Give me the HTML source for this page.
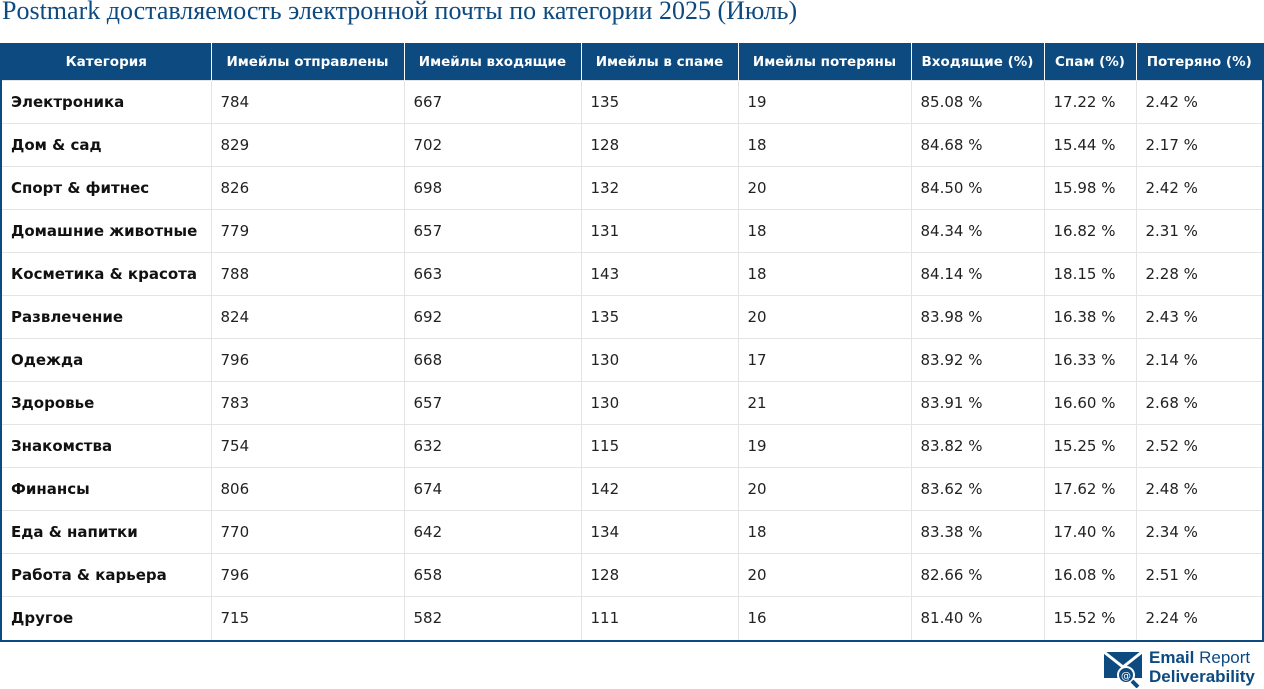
<!DOCTYPE html>
<html><head><meta charset="utf-8"><style>
body{margin:0;width:1264px;height:689px;background:#fff;position:relative;overflow:hidden;font-family:"DejaVu Sans","Liberation Sans",sans-serif}
h1{position:absolute;left:2px;top:-4px;margin:0;font:26px "Liberation Serif",serif;color:#0d4a80;font-weight:normal;white-space:nowrap}
.wrap{position:absolute;left:0;top:43px;width:1264px;box-sizing:border-box;border-left:2px solid #0d4a80;border-right:2px solid #0d4a80;border-bottom:2px solid #0d4a80}
table{width:100%;border-collapse:collapse;table-layout:fixed}
th{background:#0d4a80;color:#fff;font-size:13.5px;font-weight:bold;height:37px;border-left:1px solid #fff;padding:0;text-align:center;white-space:nowrap}
th:first-child{border-left:none}
td{height:43px;border:1px solid #e4e4e4;font-size:15px;color:#222;padding:0 0 0 9px;box-sizing:border-box;white-space:nowrap}
td:first-child{font-weight:bold;color:#111;border-left:none}
td:last-child{border-right:none}
tr:last-child td{border-bottom:none}
.logo{position:absolute;left:1104px;top:650px}
.lt{position:absolute;left:1149px;top:648px;color:#0d4a80;font-family:"Liberation Sans",sans-serif;font-size:17px;line-height:19px;font-weight:bold}
</style></head><body>
<h1>Postmark доставляемость электронной почты по категории 2025 (Июль)</h1>
<div class="wrap">
<table>
<colgroup><col style="width:209px"><col style="width:193px"><col style="width:177px"><col style="width:157px"><col style="width:173px"><col style="width:133px"><col style="width:92px"><col style="width:126px"></colgroup>
<thead><tr><th>Категория</th><th>Имейлы отправлены</th><th>Имейлы входящие</th><th>Имейлы в спаме</th><th>Имейлы потеряны</th><th>Входящие (%)</th><th>Спам (%)</th><th>Потеряно (%)</th></tr></thead>
<tbody id="tb"></tbody></table></div>
<svg class="logo" width="42" height="38" viewBox="0 0 42 38"><rect x="0" y="2" width="38" height="26" fill="#0d4a80"/><path d="M0 2 L19 17 L38 2" stroke="#fff" stroke-width="3" fill="none"/><circle cx="22" cy="25" r="8" fill="#0d4a80" stroke="#fff" stroke-width="2"/><text x="22" y="29" font-size="10" fill="#fff" text-anchor="middle">@</text><line x1="28" y1="31" x2="34" y2="37" stroke="#0d4a80" stroke-width="4"/></svg>
<div class="lt">Email <span style="font-weight:normal">Report</span><br>Deliverability</div>
<script>
const cats=["Электроника","Дом & сад","Спорт & фитнес","Домашние животные","Косметика & красота","Развлечение","Одежда","Здоровье","Знакомства","Финансы","Еда & напитки","Работа & карьера","Другое"];
const sent=[784,829,826,779,788,824,796,783,754,806,770,796,715];
const inbox=[667,702,698,657,663,692,668,657,632,674,642,658,582];
const spam=[135,128,132,131,143,135,130,130,115,142,134,128,111];
const lost=[19,18,20,18,18,20,17,21,19,20,18,20,16];
const inboxPct=["85.08","84.68","84.50","84.34","84.14","83.98","83.92","83.91","83.82","83.62","83.38","82.66","81.40"];
const spamPct=["17.22","15.44","15.98","16.82","18.15","16.38","16.33","16.60","15.25","17.62","17.40","16.08","15.52"];
const lostPct=["2.42","2.17","2.42","2.31","2.28","2.43","2.14","2.68","2.52","2.48","2.34","2.51","2.24"];
const tb=document.getElementById('tb');
cats.forEach((c,i)=>{
const tr=document.createElement('tr');


[c,sent[i],inbox[i],spam[i],lost[i],inboxPct[i]+" %",spamPct[i]+" %",lostPct[i]+" %"].forEach(v=>{
const td=document.createElement('td');td.textContent=v;


tr.appendChild(td);});
tb.appendChild(tr);});
</script>
</body></html>
